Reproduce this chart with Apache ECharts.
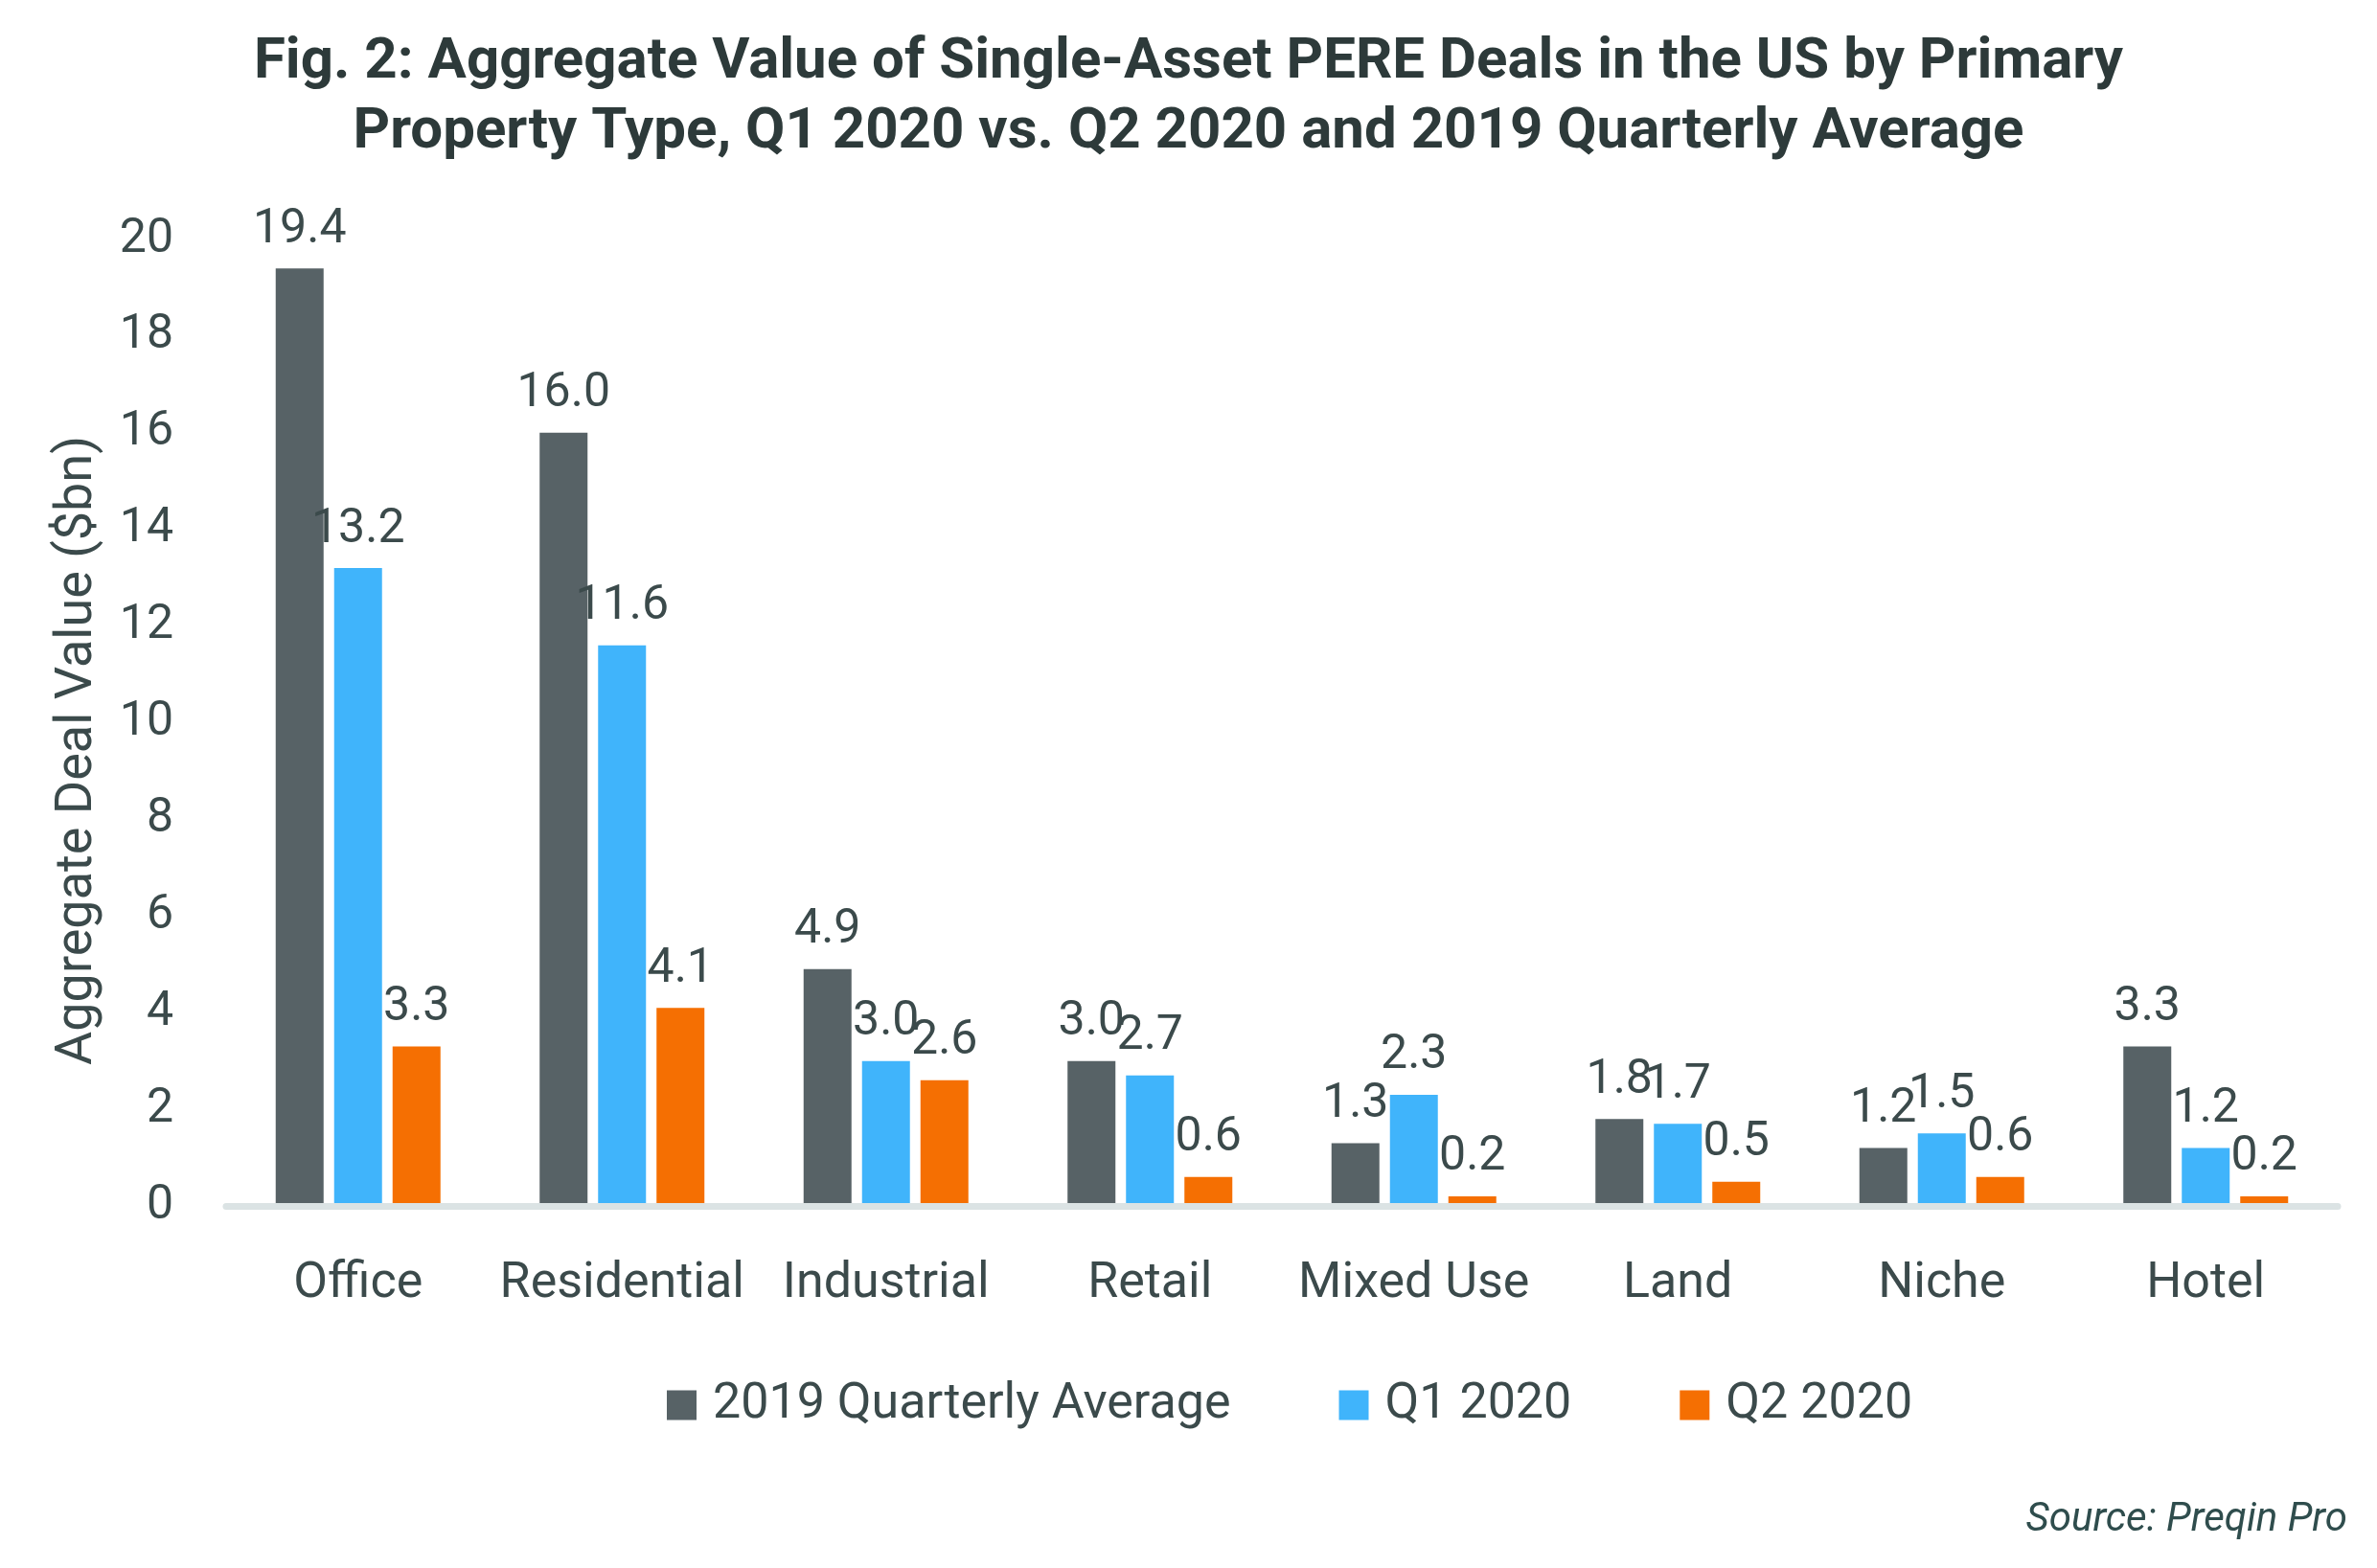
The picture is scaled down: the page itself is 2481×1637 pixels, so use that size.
<!DOCTYPE html>
<html>
<head>
<meta charset="utf-8">
<script src="https://cdn.jsdelivr.net/npm/echarts@6/dist/echarts.min.js"></script>
<style>
html,body{margin:0;padding:0;background:#fff;}
#chart{width:2481px;height:1637px;}
</style>
</head>
<body>
<div id="chart"></div>
<script>
const categories = ['Office','Residential','Industrial','Retail','Mixed Use','Land','Niche','Hotel'];
const seriesNames = ['2019 Quarterly Average','Q1 2020','Q2 2020'];
const avg2019 = [19.4, 16.0, 4.9, 3.0, 1.3, 1.8, 1.2, 3.3];
const q1_2020 = [13.2, 11.6, 3.0, 2.7, 2.3, 1.7, 1.5, 1.2];
const q2_2020 = [3.3, 4.1, 2.6, 0.6, 0.2, 0.5, 0.6, 0.2];
const colors = ['#576266', '#40b4fb', '#f56f02'];

const textColor = '#3b4a4b';
const font = 'Roboto, "Noto Sans", sans-serif';

const chart = echarts.init(document.getElementById('chart'));
const mk = (name, data, color) => ({
  name: name, type: 'bar', data: data, barWidth: 50, barGap: '22%',
  itemStyle: {color: color},
  label: {show: true, position: 'top', distance: 15, color: textColor,
    fontFamily: font, fontSize: 50, formatter: p => p.value.toFixed(1)}
});
chart.setOption({
  backgroundColor: '#ffffff',
  animation: false,
  textStyle: {fontFamily: font},
  title: [{
    text: 'Fig. 2: Aggregate Value of Single-Asset PERE Deals in the US by Primary\nProperty Type, Q1 2020 vs. Q2 2020 and 2019 Quarterly Average',
    left: 'center', top: 24,
    textStyle: {fontFamily: font, fontWeight: 'bold', fontSize: 60, lineHeight: 73, color: '#2d3a3a', align: 'center'}
  }, {
    text: 'Source: Preqin Pro',
    right: 26, top: 1561,
    textStyle: {fontFamily: font, fontStyle: 'italic', fontWeight: 'normal', fontSize: 42, color: '#2f4d4d'}
  }],
  legend: {
    data: seriesNames,
    left: 691, top: 1436,
    icon: 'rect', itemWidth: 31, itemHeight: 31, itemGap: 113,
    textStyle: {fontFamily: font, fontSize: 52, color: textColor, padding: [0,0,0,12]}
  },
  grid: {left: 236, right: 41, top: 250, bottom: 378, containLabel: false},
  xAxis: {
    type: 'category', data: categories,
    axisLine: {show: true, lineStyle: {color: '#dbe3e4', width: 7}},
    axisTick: {show: false},
    axisLabel: {fontFamily: font, fontSize: 52, color: textColor, margin: 56, interval: 0},
    z: 5
  },
  yAxis: {
    type: 'value', min: 0, max: 20, interval: 2,
    name: 'Aggregate Deal Value ($bn)', nameLocation: 'middle', nameGap: 128,
    nameTextStyle: {fontFamily: font, fontSize: 54, color: textColor, padding: [0, 58, 0, 0]},
    axisLine: {show: false}, axisTick: {show: false}, splitLine: {show: false},
    axisLabel: {fontFamily: font, fontSize: 50, color: textColor, margin: 55, padding: [8, 0, 0, 0]}
  },
  series: [
    mk(seriesNames[0], avg2019, colors[0]),
    mk(seriesNames[1], q1_2020, colors[1]),
    mk(seriesNames[2], q2_2020, colors[2])
  ]
});
</script>
</body>
</html>
